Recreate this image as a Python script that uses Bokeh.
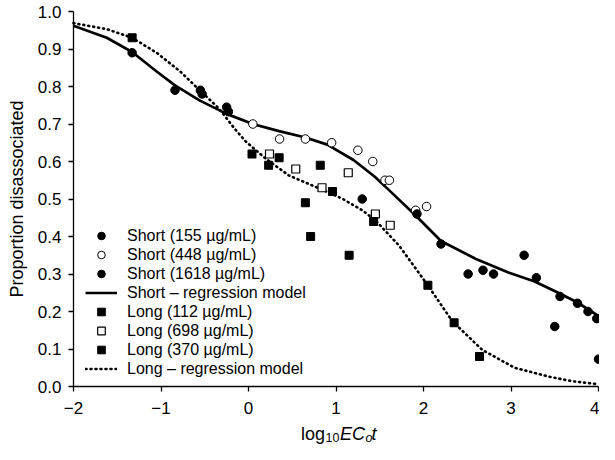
from bokeh.plotting import figure
from bokeh.models import Range1d, FixedTicker, Legend, LegendItem, Label, NumeralTickFormatter
from bokeh.embed import file_html
from bokeh.resources import INLINE

# ---- data ----
short155_x = [-1.33, -0.84, -0.55, -0.25]
short155_y = [0.89, 0.79, 0.79, 0.745]

short448_x = [0.05, 0.355, 0.65, 0.95, 1.25, 1.42, 1.56, 1.61, 1.91, 2.035]
short448_y = [0.70, 0.66, 0.66, 0.65, 0.63, 0.60, 0.55, 0.55, 0.47, 0.48]

short1618_x = [-0.53, -0.23, 1.30, 1.925, 2.20, 2.51, 2.68, 2.80, 3.15, 3.29,
               3.56, 3.50, 3.76, 3.88, 3.98, 4.0]
short1618_y = [0.78, 0.733, 0.50, 0.46, 0.38, 0.30, 0.31, 0.30, 0.35, 0.29,
               0.24, 0.16, 0.222, 0.20, 0.181, 0.073]

long112_x = [-1.33, 0.04, 0.23, 0.35, 0.65, 0.71, 0.82, 0.96, 1.15]
long112_y = [0.93, 0.62, 0.59, 0.61, 0.49, 0.40, 0.59, 0.52, 0.35]

long698_x = [0.24, 0.54, 0.84, 1.14, 1.45, 1.62]
long698_y = [0.62, 0.58, 0.53, 0.57, 0.46, 0.43]

long370_x = [1.43, 2.05, 2.35, 2.64]
long370_y = [0.44, 0.27, 0.17, 0.08]

short_model_x = [-2.0, -1.62, -1.33, -1.05, -0.84, -0.56, -0.25, 0.05, 0.35, 0.65,
                 0.90, 1.20, 1.44, 1.60, 1.91, 2.20, 2.60, 2.97, 3.27, 3.54, 3.76, 4.0]
short_model_y = [0.962, 0.930, 0.892, 0.840, 0.803, 0.763, 0.727, 0.700, 0.681, 0.664,
                 0.645, 0.604, 0.560, 0.525, 0.456, 0.388, 0.340, 0.304, 0.280, 0.250,
                 0.224, 0.188]

long_model_x = [-2.0, -1.62, -1.33, -1.05, -0.78, -0.545, -0.34, -0.16, -0.03, 0.195,
                0.46, 0.82, 1.08, 1.30, 1.45, 1.72, 2.04, 2.33, 2.67, 3.04, 3.42, 3.70, 4.0]
long_model_y = [0.969, 0.953, 0.930, 0.890, 0.840, 0.787, 0.742, 0.688, 0.653, 0.608,
                0.563, 0.527, 0.500, 0.470, 0.443, 0.376, 0.273, 0.174, 0.098, 0.050,
                0.027, 0.014, 0.006]

x_ticks = [-2, -1, 0, 1, 2, 3, 4]
x_tick_labels = ["\u22122", "\u22121", "0", "1", "2", "3", "4"]
y_ticks = [0.0, 0.1, 0.2, 0.3, 0.4, 0.5, 0.6, 0.7, 0.8, 0.9, 1.0]

legend_labels = ["Short (155 \u00b5g/mL)", "Short (448 \u00b5g/mL)", "Short (1618 \u00b5g/mL)",
                 "Short \u2013 regression model", "Long (112 \u00b5g/mL)", "Long (698 \u00b5g/mL)",
                 "Long (370 \u00b5g/mL)", "Long \u2013 regression model"]

FONT = "Liberation Sans"

# ---- layout (pixels) ----
W, H = 599, 444
AX_LEFT = 73        # where x = -2 sits
UX = 87.5           # px per x unit
AX_TOP = 11         # where y = 1 sits
UY = 375            # px per y unit
AX_BOTTOM = AX_TOP + UY

x_start = -2 - AX_LEFT / UX
x_end = x_start + W / UX
y_end = 1 + AX_TOP / UY
y_start = y_end - H / UY

p = figure(width=W, height=H, output_backend="svg", toolbar_location=None,
           x_range=Range1d(x_start, x_end), y_range=Range1d(y_start, y_end),
           min_border=0, min_border_left=0, min_border_right=0,
           min_border_top=0, min_border_bottom=0)
p.grid.visible = False
p.outline_line_color = None

for ax in (p.xaxis[0], p.yaxis[0]):
    ax.axis_line_width = 1.3
    ax.axis_line_color = "black"
    ax.major_tick_line_width = 1.3
    ax.major_tick_line_color = "black"
    ax.major_tick_out = 5
    ax.major_tick_in = 0
    ax.minor_tick_line_color = None
    ax.major_label_text_font = FONT
    ax.major_label_text_font_size = "17px"
    ax.major_label_text_color = "black"

p.xaxis.ticker = FixedTicker(ticks=x_ticks)
p.xaxis.major_label_overrides = {t: l for t, l in zip(x_ticks, x_tick_labels)}
p.xaxis.major_label_standoff = 10
p.xaxis.fixed_location = 0
p.xaxis.bounds = (-2, 4)

p.yaxis.ticker = FixedTicker(ticks=y_ticks)
p.yaxis.formatter = NumeralTickFormatter(format="0.0")
p.yaxis.major_label_standoff = 7
p.yaxis.fixed_location = -2
p.yaxis.bounds = (0, 1)
p.yaxis.axis_label = "Proportion disassociated"
p.yaxis.axis_label_text_font = FONT
p.yaxis.axis_label_text_font_size = "18px"
p.yaxis.axis_label_text_font_style = "normal"
p.yaxis.axis_label_text_color = "black"
p.yaxis.axis_label_standoff = 8

# regression lines
r_smod = p.line(short_model_x, short_model_y, line_color="black", line_width=2.7)
r_lmod = p.line(long_model_x, long_model_y, line_color="black", line_width=2.6,
                line_dash="1 4", line_cap="round")

# data points
r_s155 = p.scatter(short155_x, short155_y, marker="circle", size=8.5,
                   fill_color="black", line_color="black")
r_s448 = p.scatter(short448_x, short448_y, marker="circle", size=8.5,
                   fill_color="white", line_color="black", line_width=1)
r_s1618 = p.scatter(short1618_x, short1618_y, marker="circle", size=8.5,
                    fill_color="black", line_color="black")
r_l112 = p.scatter(long112_x, long112_y, marker="square", size=8,
                   fill_color="black", line_color="black")
r_l698 = p.scatter(long698_x, long698_y, marker="square", size=8,
                   fill_color="white", line_color="black", line_width=1.2)
r_l370 = p.scatter(long370_x, long370_y, marker="square", size=8,
                   fill_color="black", line_color="black")

renderers = [r_s155, r_s448, r_s1618, r_smod, r_l112, r_l698, r_l370, r_lmod]
items = [LegendItem(label=l, renderers=[r]) for l, r in zip(legend_labels, renderers)]
legend = Legend(items=items, location=(AX_LEFT + 12, (H - AX_BOTTOM) + 8),
                padding=0, margin=0, spacing=0,
                border_line_color=None, background_fill_alpha=0,
                glyph_width=32, glyph_height=19, label_height=19, label_standoff=10,
                label_text_font=FONT, label_text_font_size="16px",
                label_text_color="black")
p.add_layout(legend)

# x-axis title: log10 EC_o t  (pieces below the x axis)
base_y = -47 / UY
sub_y = base_y - 4 / UY
pieces = [
    ("log", -35, base_y, "18px", "normal"),
    ("10", -10.5, sub_y, "12.5px", "normal"),
    ("EC", 4, base_y, "18px", "italic"),
    ("o", 29.5, sub_y, "12.5px", "italic"),
    ("t", 35.5, base_y, "18px", "italic"),
]
for txt, xo, yy, fs, st in pieces:
    p.add_layout(Label(x=1.0, y=yy, x_units="data", y_units="data", x_offset=xo,
                       text=txt, text_font=FONT, text_font_size=fs, text_font_style=st,
                       text_align="left", text_baseline="alphabetic", text_color="black"))

open("out.html", "w").write(file_html(p, INLINE))
